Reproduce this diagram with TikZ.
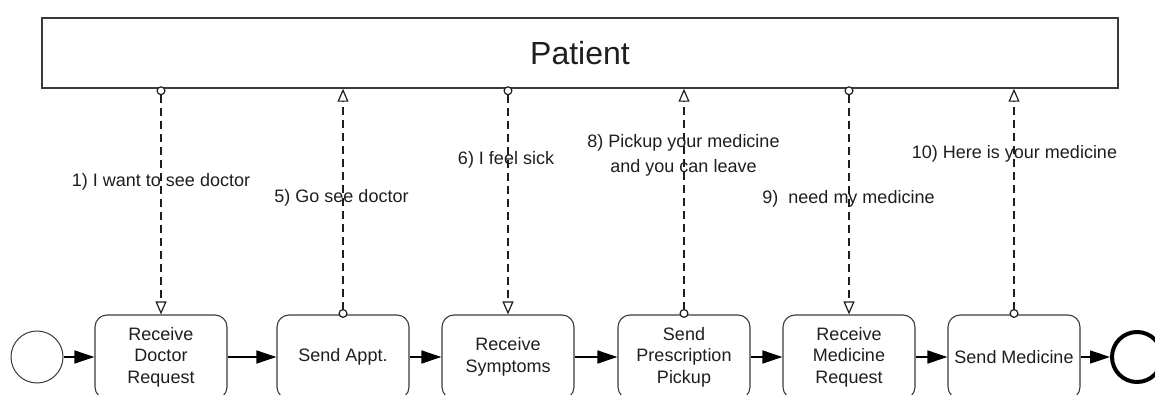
\documentclass[tikz,border=0pt]{standalone}
\usepackage{fontspec}
\setmainfont{Liberation Sans}
\usetikzlibrary{arrows.meta}
\definecolor{edge}{HTML}{3A3A3A}
\definecolor{ink}{HTML}{1E1E1E}
\begin{document}
\begin{tikzpicture}[x=1pt,y=-1pt,
  pool/.style={draw=edge,line width=1.5pt,minimum width=1076pt,minimum height=70pt,
    inner sep=0pt,text=ink,font=\fontsize{32}{38}\selectfont},
  task/.style={draw=edge,line width=1.1pt,rounded corners=12pt,minimum width=132pt,
    minimum height=84pt,inner sep=0pt,align=center,text=ink,
    font=\fontsize{18}{21.6}\selectfont},
  startev/.style={draw=edge,line width=1pt,circle,minimum size=52pt,inner sep=0pt},
  endev/.style={draw=black,line width=4pt,circle,minimum size=50pt,inner sep=0pt},
  lbl/.style={inner sep=0pt,align=center,text=ink,font=\fontsize{18}{25}\selectfont},
  seq/.style={draw=black,line width=1.4pt,-{Triangle[length=20pt,width=13pt]}},
  msg/.style={draw=ink,line width=1.5pt,dash pattern=on 8pt off 5pt,
    {Circle[open,fill=white,line width=1.2pt,length=9pt,width=9pt]}-{Triangle[open,fill=white,line width=1.2pt,length=13pt,width=11pt]}}
]
\useasboundingbox (0,0) rectangle (1155,395);
\begin{scope}
\clip (0,0) rectangle (1155,395);

% pool
\node[pool] (patient) at (580,53) {Patient};

% process flow
\node[startev] (start) at (37,357) {};
\node[task] (t1) at (161,357) {Receive\\Doctor\\Request};
\node[task] (t2) at (343,357) {Send Appt.};
\node[task] (t3) at (508,357) {Receive\\Symptoms};
\node[task] (t4) at (684,357) {Send\\Prescription\\Pickup};
\node[task] (t5) at (849,357) {Receive\\Medicine\\Request};
\node[task] (t6) at (1014,357) {Send Medicine};
\node[endev] (end) at (1137,357) {};

\draw[seq] (start) -- (t1);
\draw[seq] (t1) -- (t2);
\draw[seq] (t2) -- (t3);
\draw[seq] (t3) -- (t4);
\draw[seq] (t4) -- (t5);
\draw[seq] (t5) -- (t6);
\draw[seq] (t6) -- (end);

% message flows between the patient and the tasks
\draw[msg,shorten <=-2.5pt] (t1.north |- patient.south) -- (t1.north);
\draw[msg,shorten <=-3.5pt] (t2.north) -- (t2.north |- patient.south);
\draw[msg,shorten <=-2.5pt] (t3.north |- patient.south) -- (t3.north);
\draw[msg,shorten <=-3.5pt] (t4.north) -- (t4.north |- patient.south);
\draw[msg,shorten <=-2.5pt] (t5.north |- patient.south) -- (t5.north);
\draw[msg,shorten <=-3.5pt] (t6.north) -- (t6.north |- patient.south);

% message labels
\node[lbl] (l1) at (161,182) {1) I want to see doctor};
\node[lbl] (l2) at (341.5,198) {5) Go see doctor};
\node[lbl] (l3) at (506,160) {6) I feel sick};
\node[lbl] (l4) at (683.5,155.5) {8) Pickup your medicine\\and you can leave};
\node[lbl] (l5) at (848.5,199) {9)\ \ need my medicine};
\node[lbl] (l6) at (1014.5,153.5) {10) Here is your medicine};
\end{scope}
\end{tikzpicture}
\end{document}
